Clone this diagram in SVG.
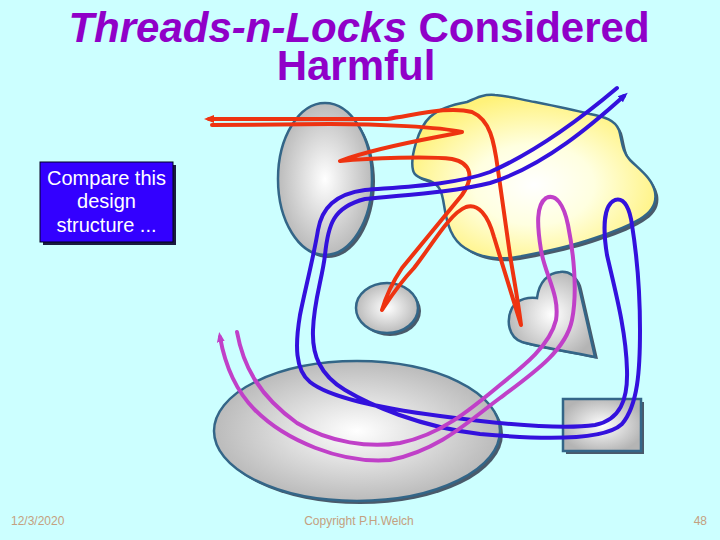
<svg xmlns="http://www.w3.org/2000/svg" width="720" height="540" viewBox="0 0 720 540">
<defs>
<style>
.title{font-family:"Liberation Sans",Arial,sans-serif;font-weight:bold;font-size:42px;fill:#9000C8;text-anchor:middle}
.shape{stroke:#336688;stroke-width:2.5}
.shadow{fill:#4A5A6A}
.thread{fill:none;stroke-width:4;stroke-linejoin:round;stroke-linecap:round}
.box{font-family:"Liberation Sans",Arial,sans-serif;font-size:20px;fill:#FFFFFF;text-anchor:middle}
.foot{font-family:"Liberation Sans",Arial,sans-serif;font-size:12px;fill:#C4A080}
</style>
<radialGradient id="grey" cx="50%" cy="50%" r="55%">
<stop offset="0" stop-color="#FFFFFF"/>
<stop offset="1" stop-color="#B4B4B4"/>
</radialGradient>
<radialGradient id="yellow" cx="50%" cy="55%" r="55%">
<stop offset="0" stop-color="#FFFFFF"/>
<stop offset="0.45" stop-color="#FFFFE0"/>
<stop offset="1" stop-color="#FFF27A"/>
</radialGradient>
<marker id="aRed" viewBox="0 0 10 10" refX="5" refY="5" markerWidth="10" markerHeight="10" markerUnits="userSpaceOnUse" orient="auto"><path d="M0,1 L10,5 L0,9 z" fill="#EE3311"/></marker>
<marker id="aBlue" viewBox="0 0 10 10" refX="5" refY="5" markerWidth="10" markerHeight="10" markerUnits="userSpaceOnUse" orient="auto"><path d="M0,1 L10,5 L0,9 z" fill="#3311DD"/></marker>
<marker id="aMag" viewBox="0 0 10 10" refX="5" refY="5" markerWidth="10" markerHeight="10" markerUnits="userSpaceOnUse" orient="auto"><path d="M0,1 L10,5 L0,9 z" fill="#C040C8"/></marker>
</defs>
<rect width="720" height="540" fill="#CCFFFF"/>
<g id="title">
<text class="title" x="359" y="42"><tspan font-style="italic">Threads-n-Locks</tspan> Considered</text>
<text class="title" x="356" y="80">Harmful</text>
</g>
<g id="blob">
<path class="shadow" transform="translate(3,3)" d="M413,170 C410,158 418,128 430,117 C440,108 455,104 467,102 C478,97 485,94 495,95 C510,96 522,100 535,102 C555,106 570,109 590,114 C605,117 615,120 619,130 C622,140 622,152 630,160 C640,170 652,178 655,192 C657,203 652,212 640,219 C625,228 610,233 595,238 C575,245 545,252 517,257 C500,260 480,258 465,248 C452,240 447,225 444,205 C442,192 440,185 430,181 C420,178 414,176 413,170 Z"/>
<path class="shape" fill="url(#yellow)" d="M413,170 C410,158 418,128 430,117 C440,108 455,104 467,102 C478,97 485,94 495,95 C510,96 522,100 535,102 C555,106 570,109 590,114 C605,117 615,120 619,130 C622,140 622,152 630,160 C640,170 652,178 655,192 C657,203 652,212 640,219 C625,228 610,233 595,238 C575,245 545,252 517,257 C500,260 480,258 465,248 C452,240 447,225 444,205 C442,192 440,185 430,181 C420,178 414,176 413,170 Z"/>
</g>
<g id="tall-ellipse">
<ellipse class="shadow" cx="328" cy="182" rx="47" ry="76"/>
<ellipse class="shape" fill="url(#grey)" cx="325" cy="179" rx="47" ry="76"/>
</g>
<g id="small-ellipse">
<ellipse class="shadow" cx="390" cy="311" rx="31" ry="25"/>
<ellipse class="shape" fill="url(#grey)" cx="387" cy="308" rx="31" ry="25"/>
</g>
<g id="heart">
<path class="shadow" transform="translate(3,2)" d="M595,357 L579,287 C577,276 569,271 560,272 C548,273 539,282 537,298 C530,297 518,298 512,308 C506,320 508,337 522,342 C535,346 560,350 595,357 Z"/>
<path class="shape" fill="url(#grey)" d="M595,357 L579,287 C577,276 569,271 560,272 C548,273 539,282 537,298 C530,297 518,298 512,308 C506,320 508,337 522,342 C535,346 560,350 595,357 Z"/>
</g>
<g id="big-ellipse">
<ellipse class="shadow" cx="360" cy="434" rx="143" ry="70"/>
<ellipse class="shape" fill="url(#grey)" cx="357" cy="431" rx="143" ry="70"/>
</g>
<g id="rectangle">
<rect class="shadow" x="566" y="402" width="78" height="52"/>
<rect class="shape" fill="url(#grey)" x="563" y="399" width="78" height="52"/>
</g>
<g id="note">
<rect x="43" y="165" width="133" height="80" fill="#1A1A40"/>
<rect x="40" y="162" width="133" height="80" fill="#3300FF" stroke="#000022" stroke-width="1"/>
<text class="box" x="106.5" y="185">Compare this</text>
<text class="box" x="106.5" y="208">design</text>
<text class="box" x="106.5" y="232">structure ...</text>
</g>
<g id="connectors">
<path id="red-thread" class="thread" stroke="#EE3311" marker-end="url(#aRed)" d="M212,125 L330,124 C380,124 440,127 462,132 C440,137 380,146 340,161 C370,158 430,156 452,159 C472,163 474,178 462,195 L402,268 C394,280 386,296 382,310 C390,298 398,285 414,268 C432,245 450,213 466,207 C478,203 488,215 494,237 L521,325 C518,300 514,280 510,255 L498,170 C494,140 490,120 472,112 C450,106 420,114 387,119 L209,119"/>
<path id="blue-thread" class="thread" stroke="#3311DD" marker-end="url(#aBlue)" d="M617,88 C585,115 540,150 490,172 C455,185 400,187 365,190 C335,194 322,208 318,230 C314,255 305,290 300,315 C295,345 295,370 310,382 C330,398 380,408 440,416 C500,424 560,430 595,425 C620,420 628,400 627,370 C626,330 615,290 607,255 C603,230 603,205 615,200 C625,197 630,210 632,225 C636,250 640,290 640,330 C640,370 638,405 622,424 C605,440 545,440 480,434 C420,427 370,405 345,390 C320,375 312,355 313,330 C314,300 322,280 325,255 C328,225 333,207 365,199 C400,195 450,193 490,183 C545,166 595,122 624,96"/>
<path id="magenta-thread" class="thread" stroke="#C040C8" marker-end="url(#aMag)" d="M237,332 C243,365 258,395 297,423 C330,443 370,448 400,443 C440,435 470,410 500,385 C525,365 550,345 556,320 C560,295 545,275 541,250 C537,225 536,205 546,198 C556,193 564,205 568,225 C573,250 578,290 572,320 C566,350 535,372 500,398 C470,420 440,450 390,460 C340,464 285,440 255,410 C235,390 225,365 220,337"/>
</g>
<g id="footer">
<text class="foot" x="11" y="525">12/3/2020</text>
<text class="foot" x="359" y="525" text-anchor="middle">Copyright P.H.Welch</text>
<text class="foot" x="707" y="525" text-anchor="end">48</text>
</g>
</svg>
